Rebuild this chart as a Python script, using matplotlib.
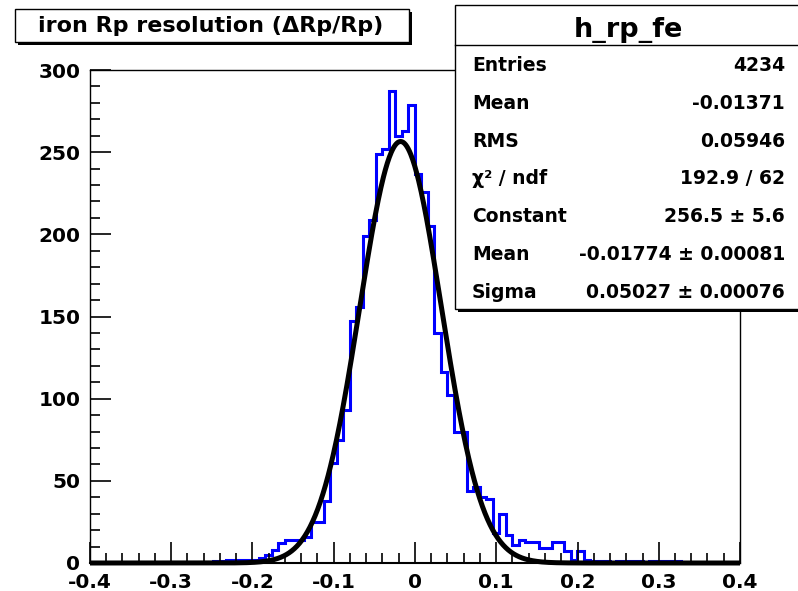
import numpy as np
import matplotlib
matplotlib.use("Agg")
import matplotlib.pyplot as plt
from matplotlib.patches import Rectangle
from matplotlib.lines import Line2D
from matplotlib.ticker import MultipleLocator

# histogram h_rp_fe : 100 bins from -0.4 to 0.4
x_lo, x_hi, n_bins = -0.4, 0.4, 100
counts = [0] * 19 + [
    1, 1, 2, 2, 2, 2, 2, 3, 5, 8, 12, 14,          # bins 19-30
    14, 14, 16, 25, 25, 38, 61, 75, 93, 147, 156,  # bins 31-41
    199, 209, 249, 252, 287, 260, 263, 279, 237, 226, 205,  # bins 42-52
    140, 116, 102, 80, 80, 44, 46, 40, 39, 18,     # bins 53-62
    30, 17, 11, 14, 13, 13, 9, 9, 13, 13, 7, 2, 7, 2,  # bins 63-76
    1, 1, 1, 0, 1, 1, 1, 1, 0, 1, 1, 1, 1, 1,      # bins 77-90
] + [0] * 9

# gaus fit parameters (from stats box)
fit_const = 256.5
fit_mean = -0.01774
fit_sigma = 0.05027

title = "iron Rp resolution (\u0394Rp/Rp)"
hist_name = "h_rp_fe"
stat_labels = ["Entries", "Mean", "RMS", "\u03c7\u00b2 / ndf", "Constant", "Mean", "Sigma"]
stat_values = ["4234", "-0.01371", "0.05946", "192.9 / 62",
               "256.5 \u00b1 5.6", "-0.01774 \u00b1 0.00081", "0.05027 \u00b1 0.00076"]

x_ticks = [-0.4, -0.3, -0.2, -0.1, 0, 0.1, 0.2, 0.3, 0.4]
x_ticklabels = ["-0.4", "-0.3", "-0.2", "-0.1", "0", "0.1", "0.2", "0.3", "0.4"]
y_ticks = [0, 50, 100, 150, 200, 250, 300]

plt.rcParams['font.family'] = ['DejaVu Sans']
plt.rcParams['font.weight'] = 'bold'

W, H = 798, 591
fig = plt.figure(figsize=(W / 100, H / 100), dpi=100)
fig.patch.set_facecolor("white")


def fx(x):
    return x / W


def fy(y):
    return (H - y) / H


# axes frame: x 90..740, y 70..563 (pixels)
ax = fig.add_axes([fx(90), fy(563), fx(740) - fx(90), fy(70) - fy(563)])
edges = np.linspace(x_lo, x_hi, n_bins + 1)
ax.stairs(counts, edges, color="blue", lw=2.2, baseline=None)

xf = np.linspace(x_lo, x_hi, 1000)
yf = fit_const * np.exp(-0.5 * ((xf - fit_mean) / fit_sigma) ** 2)
ax.plot(xf, yf, color="black", lw=3.6, solid_capstyle="butt", clip_on=False)

ax.set_xlim(x_lo, x_hi)
ax.set_ylim(0, 300)
ax.set_xticks(x_ticks)
ax.set_xticklabels(x_ticklabels)
ax.set_yticks(y_ticks)
ax.xaxis.set_minor_locator(MultipleLocator(0.02))
ax.yaxis.set_minor_locator(MultipleLocator(10))
ax.tick_params(which="major", direction="in", length=15, width=1.2,
               labelsize=14.5, top=False, right=False)
ax.tick_params(which="minor", direction="in", length=7, width=1.2,
               top=False, right=False)
ax.tick_params(axis="y", pad=7)
ax.tick_params(axis="x", pad=7)
for lab in ax.get_xticklabels() + ax.get_yticklabels():
    lab.set_fontweight("bold")
for s in ax.spines.values():
    s.set_linewidth(1.0)
ax.spines["bottom"].set_linewidth(1.5)


# box with drop shadow, in pixel coordinates
def box(x0, y0, x1, y1, shadow=3, z=10):
    fig.add_artist(Rectangle((fx(x0 + shadow), fy(y1 + shadow)), fx(x1 - x0), fy(y0) - fy(y1),
                             transform=fig.transFigure, facecolor="black",
                             edgecolor="none", zorder=z))
    fig.add_artist(Rectangle((fx(x0), fy(y1)), fx(x1 - x0), fy(y0) - fy(y1),
                             transform=fig.transFigure, facecolor="white",
                             edgecolor="black", lw=1.0, zorder=z + 1))


box(15, 9, 409, 42)
fig.text(fx(211), fy(32), title, ha="center", va="baseline",
         fontsize=16, fontweight="bold", zorder=20)

# stats box
box(455, 5, 805, 309, shadow=3)
fig.add_artist(Line2D([fx(455), fx(805)], [fy(45), fy(45)], transform=fig.transFigure,
                      color="black", lw=1.0, zorder=15))
fig.text(fx(628), fy(37), hist_name, ha="center", va="baseline",
         fontsize=19.5, fontweight="bold", zorder=20)
for k, (lab, val) in enumerate(zip(stat_labels, stat_values)):
    yb = 71 + k * 37.8
    fig.text(fx(472), fy(yb), lab, ha="left", va="baseline",
             fontsize=13.5, fontweight="bold", zorder=20)
    fig.text(fx(785), fy(yb), val, ha="right", va="baseline",
             fontsize=13.5, fontweight="bold", zorder=20)

fig.savefig("out.png", dpi=100)
